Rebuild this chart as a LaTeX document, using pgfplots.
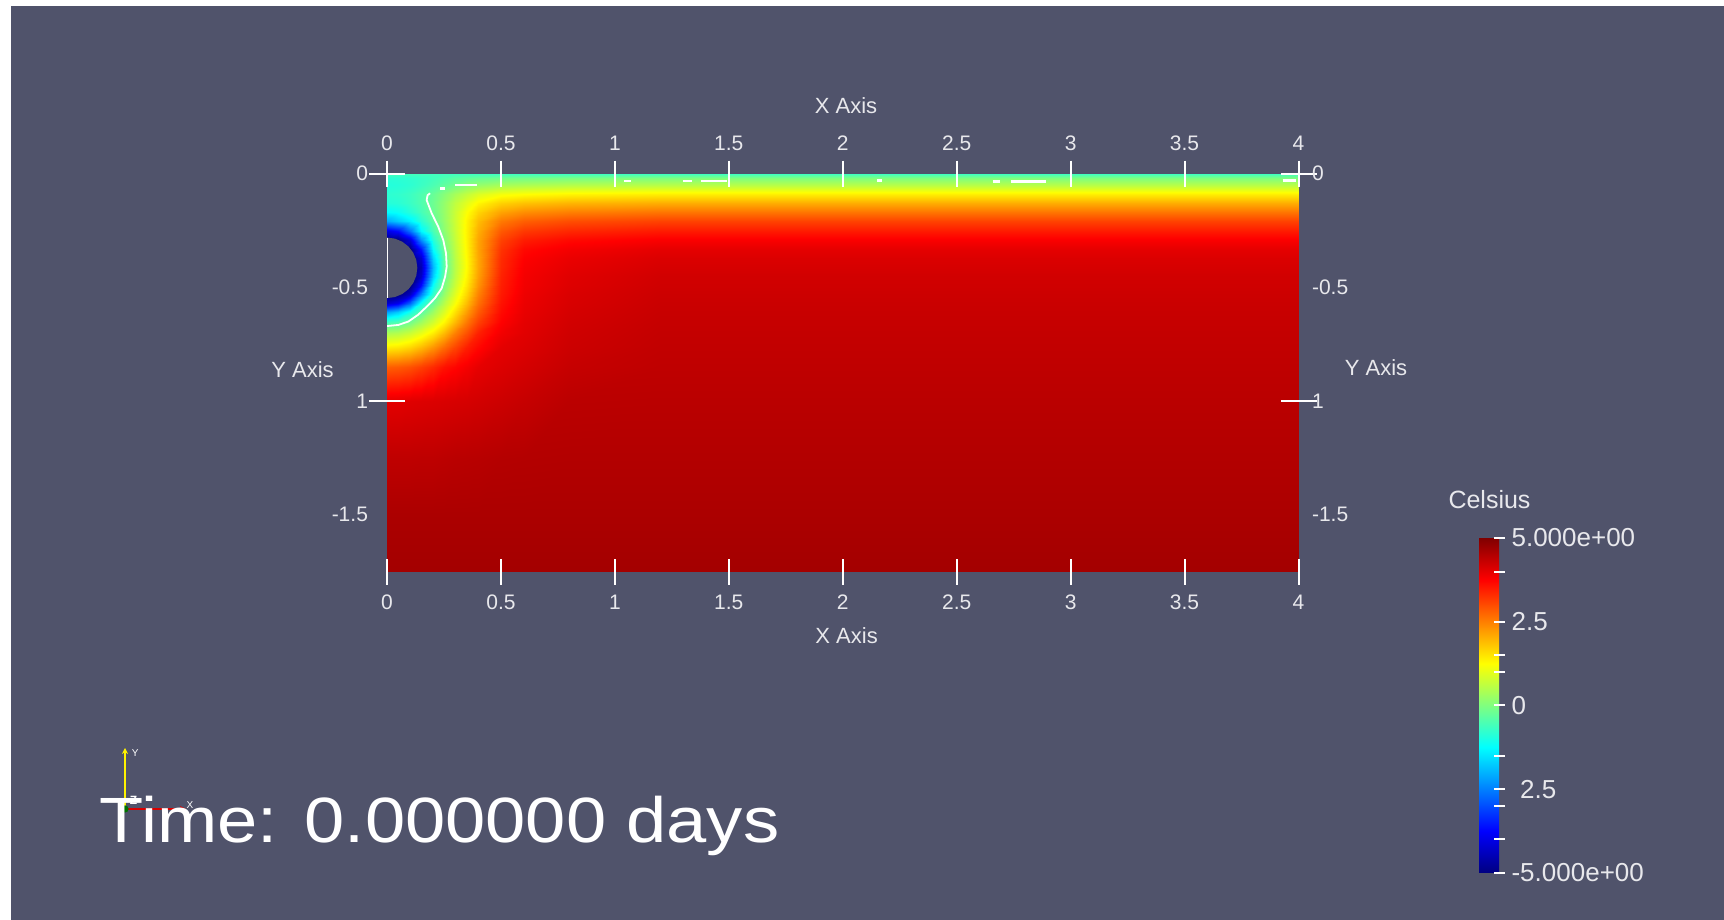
\documentclass[border=0pt]{standalone}
\usepackage{fontspec}
\setmainfont{Liberation Sans}
\usepackage{graphicx}
\usepackage{pgfplots}
\pgfplotsset{compat=1.18}
\usetikzlibrary{arrows.meta}
\definecolor{bg}{RGB}{80,83,107}
\definecolor{lab}{RGB}{232,232,236}
\pgfplotsset{
  colorbar shift/.style={},
  base/.style={at={(193.5pt,174.15pt)}, anchor=south west, width=455.75pt, height=199pt,
    scale only axis, xmin=0, xmax=4, ymin=-1.75, ymax=0},
  labs/.style={base, axis line style={draw=none}, major tick length=0pt, tick style={draw=none},
    xtick={0,0.5,1,1.5,2,2.5,3,3.5,4}, xticklabels={0,0.5,1,1.5,2,2.5,3,3.5,4},
    ytick={0,-0.5,-1,-1.5}, yticklabels={0,-0.5,1,-1.5},
    tick label style={font=\fontsize{10.5}{12}\selectfont, text=lab}},
}
\begin{document}
\begin{tikzpicture}
\useasboundingbox (0pt,0pt) rectangle (862pt,460pt);
\fill[white] (0pt,0pt) rectangle (862pt,460pt);
\fill[bg] (5.25pt,0pt) -- (5.25pt,457pt) -- (862pt,457pt) -- (862pt,0pt) -- cycle;

\begin{axis}[base, hide axis, colormap/jet, point meta min=-5, point meta max=5,
  colorbar,
  colorbar style={
    at={(739.5pt,23.5pt)}, anchor=south west,
    width=10pt, height=167.5pt, scale only axis,
    axis line style={draw=none},
    ytick={-5,-4,-3,-2.5,-1.5,0,1,1.5,2.5,4,5},
    yticklabels={-5.000e+00,,,\hphantom{-}2.5,,0,,,2.5,,5.000e+00},
    ytick pos=right, yticklabel pos=right,
    tick align=center, major tick length=5.5pt,
    ytick style={white, line width=1pt},
    yticklabel style={font=\fontsize{13}{15}\selectfont, text=lab},
  }]
\addplot[surf, shader=interp, mesh/cols=16, point meta=explicit] coordinates {
(0,0)[-0.6] (0.05,0)[-0.6] (0.1,0)[-0.6] (0.15,0)[-0.6] (0.2,0)[-0.6] (0.25,0)[-0.6] (0.3,0)[-0.6] (0.35,0)[-0.6] (0.4,0)[-0.6] (0.5,0)[-0.6] (0.6,0)[-0.6] (0.8,0)[-0.6] (1.2,0)[-0.6] (2,0)[-0.6] (3,0)[-0.6] (4,0)[-0.6]
(0,-0.02)[-0.85] (0.05,-0.02)[-0.83] (0.1,-0.02)[-0.78] (0.15,-0.02)[-0.70] (0.2,-0.02)[-0.60] (0.25,-0.02)[-0.48] (0.3,-0.02)[-0.36] (0.35,-0.02)[-0.28] (0.4,-0.02)[-0.22] (0.5,-0.02)[-0.13] (0.6,-0.02)[-0.09] (0.8,-0.02)[-0.04] (1.2,-0.02)[0.0] (2,-0.02)[0.0] (3,-0.02)[0.0] (4,-0.02)[0.0]
(0,-0.05)[-0.91] (0.05,-0.05)[-0.88] (0.1,-0.05)[-0.81] (0.15,-0.05)[-0.68] (0.2,-0.05)[-0.51] (0.25,-0.05)[-0.30] (0.3,-0.05)[-0.10] (0.35,-0.05)[0.10] (0.4,-0.05)[0.22] (0.5,-0.05)[0.38] (0.6,-0.05)[0.45] (0.8,-0.05)[0.52] (1.2,-0.05)[0.55] (2,-0.05)[0.55] (3,-0.05)[0.55] (4,-0.05)[0.55]
(0,-0.09)[-0.81] (0.05,-0.09)[-0.77] (0.1,-0.09)[-0.66] (0.15,-0.09)[-0.48] (0.2,-0.09)[-0.23] (0.25,-0.09)[0.07] (0.3,-0.09)[0.38] (0.35,-0.09)[0.66] (0.4,-0.09)[0.90] (0.5,-0.09)[1.15] (0.6,-0.09)[1.24] (0.8,-0.09)[1.34] (1.2,-0.09)[1.4] (2,-0.09)[1.4] (3,-0.09)[1.4] (4,-0.09)[1.4]
(0,-0.13)[-0.90] (0.05,-0.13)[-0.85] (0.1,-0.13)[-0.69] (0.15,-0.13)[-0.47] (0.2,-0.13)[-0.17] (0.25,-0.13)[0.20] (0.3,-0.13)[0.63] (0.35,-0.13)[0.99] (0.4,-0.13)[1.33] (0.5,-0.13)[1.70] (0.6,-0.13)[1.85] (0.8,-0.13)[1.98] (1.2,-0.13)[2.05] (2,-0.13)[2.05] (3,-0.13)[2.05] (4,-0.13)[2.05]
(0,-0.17)[-1.26] (0.05,-0.17)[-1.16] (0.1,-0.17)[-0.88] (0.15,-0.17)[-0.57] (0.2,-0.17)[-0.19] (0.25,-0.17)[0.23] (0.3,-0.17)[0.73] (0.35,-0.17)[1.24] (0.4,-0.17)[1.66] (0.5,-0.17)[2.15] (0.6,-0.17)[2.36] (0.8,-0.17)[2.50] (1.2,-0.17)[2.6] (2,-0.17)[2.6] (3,-0.17)[2.6] (4,-0.17)[2.6]
(0,-0.21)[-2.08] (0.05,-0.21)[-1.75] (0.1,-0.21)[-1.39] (0.15,-0.21)[-0.84] (0.2,-0.21)[-0.30] (0.25,-0.21)[0.21] (0.3,-0.21)[0.76] (0.35,-0.21)[1.37] (0.4,-0.21)[1.89] (0.5,-0.21)[2.56] (0.6,-0.21)[2.82] (0.8,-0.21)[2.99] (1.2,-0.21)[3.1] (2,-0.21)[3.1] (3,-0.21)[3.1] (4,-0.21)[3.1]
(0,-0.25)[-4.01] (0.05,-0.25)[-3.67] (0.1,-0.25)[-2.62] (0.15,-0.25)[-1.32] (0.2,-0.25)[-0.52] (0.25,-0.25)[0.13] (0.3,-0.25)[0.73] (0.35,-0.25)[1.40] (0.4,-0.25)[2.03] (0.5,-0.25)[2.88] (0.6,-0.25)[3.20] (0.8,-0.25)[3.37] (1.2,-0.25)[3.5] (2,-0.25)[3.5] (3,-0.25)[3.5] (4,-0.25)[3.5]
(0,-0.29)[-5] (0.05,-0.29)[-5] (0.1,-0.29)[-4.17] (0.15,-0.29)[-2.38] (0.2,-0.29)[-0.89] (0.25,-0.29)[-0.01] (0.3,-0.29)[0.68] (0.35,-0.29)[1.39] (0.4,-0.29)[2.13] (0.5,-0.29)[3.11] (0.6,-0.29)[3.48] (0.8,-0.29)[3.67] (1.2,-0.29)[3.8] (2,-0.29)[3.8] (3,-0.29)[3.8] (4,-0.29)[3.8]
(0,-0.33)[-5] (0.05,-0.33)[-5] (0.1,-0.33)[-5] (0.15,-0.33)[-3.55] (0.2,-0.33)[-1.22] (0.25,-0.33)[-0.14] (0.3,-0.33)[0.62] (0.35,-0.33)[1.36] (0.4,-0.33)[2.14] (0.5,-0.33)[3.25] (0.6,-0.33)[3.67] (0.8,-0.33)[3.85] (1.2,-0.33)[4.0] (2,-0.33)[4.0] (3,-0.33)[4.0] (4,-0.33)[4.0]
(0,-0.37)[-5] (0.05,-0.37)[-5] (0.1,-0.37)[-5] (0.15,-0.37)[-4.25] (0.2,-0.37)[-1.66] (0.25,-0.37)[-0.31] (0.3,-0.37)[0.57] (0.35,-0.37)[1.32] (0.4,-0.37)[2.11] (0.5,-0.37)[3.33] (0.6,-0.37)[3.76] (0.8,-0.37)[3.95] (1.2,-0.37)[4.1] (2,-0.37)[4.1] (3,-0.37)[4.1] (4,-0.37)[4.1]
(0,-0.41)[-5] (0.05,-0.41)[-5] (0.1,-0.41)[-5] (0.15,-0.41)[-4.52] (0.2,-0.41)[-1.94] (0.25,-0.41)[-0.37] (0.3,-0.41)[0.55] (0.35,-0.41)[1.30] (0.4,-0.41)[2.11] (0.5,-0.41)[3.36] (0.6,-0.41)[3.81] (0.8,-0.41)[4.00] (1.2,-0.41)[4.15] (2,-0.41)[4.15] (3,-0.41)[4.15] (4,-0.41)[4.15]
(0,-0.45)[-5] (0.05,-0.45)[-5] (0.1,-0.45)[-5] (0.15,-0.45)[-4.32] (0.2,-0.45)[-1.72] (0.25,-0.45)[-0.28] (0.3,-0.45)[0.62] (0.35,-0.45)[1.37] (0.4,-0.45)[2.18] (0.5,-0.45)[3.42] (0.6,-0.45)[3.85] (0.8,-0.45)[4.05] (1.2,-0.45)[4.2] (2,-0.45)[4.2] (3,-0.45)[4.2] (4,-0.45)[4.2]
(0,-0.49)[-5] (0.05,-0.49)[-5] (0.1,-0.49)[-5] (0.15,-0.49)[-3.70] (0.2,-0.49)[-1.19] (0.25,-0.49)[-0.07] (0.3,-0.49)[0.74] (0.35,-0.49)[1.49] (0.4,-0.49)[2.29] (0.5,-0.49)[3.46] (0.6,-0.49)[3.87] (0.8,-0.49)[4.07] (1.2,-0.49)[4.22] (2,-0.49)[4.22] (3,-0.49)[4.22] (4,-0.49)[4.22]
(0,-0.53)[-5] (0.05,-0.53)[-5] (0.1,-0.53)[-4.37] (0.15,-0.53)[-2.54] (0.2,-0.53)[-0.76] (0.25,-0.53)[0.20] (0.3,-0.53)[0.95] (0.35,-0.53)[1.68] (0.4,-0.53)[2.47] (0.5,-0.53)[3.51] (0.6,-0.53)[3.91] (0.8,-0.53)[4.11] (1.2,-0.53)[4.25] (2,-0.53)[4.25] (3,-0.53)[4.25] (4,-0.53)[4.25]
(0,-0.57)[-4.27] (0.05,-0.57)[-3.92] (0.1,-0.57)[-2.79] (0.15,-0.57)[-1.13] (0.2,-0.57)[-0.23] (0.25,-0.57)[0.53] (0.3,-0.57)[1.19] (0.35,-0.57)[1.92] (0.4,-0.57)[2.64] (0.5,-0.57)[3.58] (0.6,-0.57)[3.94] (0.8,-0.57)[4.13] (1.2,-0.57)[4.27] (2,-0.57)[4.27] (3,-0.57)[4.27] (4,-0.57)[4.27]
(0,-0.61)[-2.14] (0.05,-0.61)[-1.74] (0.1,-0.61)[-1.02] (0.15,-0.61)[-0.38] (0.2,-0.61)[0.30] (0.25,-0.61)[0.91] (0.3,-0.61)[1.54] (0.35,-0.61)[2.24] (0.4,-0.61)[2.86] (0.5,-0.61)[3.66] (0.6,-0.61)[3.97] (0.8,-0.61)[4.16] (1.2,-0.61)[4.29] (2,-0.61)[4.29] (3,-0.61)[4.29] (4,-0.61)[4.29]
(0,-0.65)[-0.62] (0.05,-0.65)[-0.49] (0.1,-0.65)[-0.13] (0.15,-0.65)[0.31] (0.2,-0.65)[0.80] (0.25,-0.65)[1.32] (0.3,-0.65)[1.94] (0.35,-0.65)[2.59] (0.4,-0.65)[3.11] (0.5,-0.65)[3.75] (0.6,-0.65)[4.01] (0.8,-0.65)[4.19] (1.2,-0.65)[4.31] (2,-0.65)[4.31] (3,-0.65)[4.31] (4,-0.65)[4.31]
(0,-0.70)[0.44] (0.05,-0.70)[0.51] (0.1,-0.70)[0.73] (0.15,-0.70)[1.03] (0.2,-0.70)[1.43] (0.25,-0.70)[1.93] (0.3,-0.70)[2.50] (0.35,-0.70)[2.98] (0.4,-0.70)[3.44] (0.5,-0.70)[3.87] (0.6,-0.70)[4.04] (0.8,-0.70)[4.22] (1.2,-0.70)[4.33] (2,-0.70)[4.33] (3,-0.70)[4.33] (4,-0.70)[4.33]
(0,-0.76)[1.40] (0.05,-0.76)[1.46] (0.1,-0.76)[1.63] (0.15,-0.76)[1.90] (0.2,-0.76)[2.28] (0.25,-0.76)[2.69] (0.3,-0.76)[3.07] (0.35,-0.76)[3.46] (0.4,-0.76)[3.68] (0.5,-0.76)[4.01] (0.6,-0.76)[4.09] (0.8,-0.76)[4.25] (1.2,-0.76)[4.35] (2,-0.76)[4.35] (3,-0.76)[4.35] (4,-0.76)[4.35]
(0,-0.85)[2.83] (0.05,-0.85)[2.87] (0.1,-0.85)[2.97] (0.15,-0.85)[3.14] (0.2,-0.85)[3.35] (0.25,-0.85)[3.59] (0.3,-0.85)[3.71] (0.35,-0.85)[3.85] (0.4,-0.85)[3.99] (0.5,-0.85)[4.09] (0.6,-0.85)[4.17] (0.8,-0.85)[4.31] (1.2,-0.85)[4.38] (2,-0.85)[4.38] (3,-0.85)[4.38] (4,-0.85)[4.38]
(0,-1.0)[4.02] (0.05,-1.0)[4.03] (0.1,-1.0)[4.06] (0.15,-1.0)[4.08] (0.2,-1.0)[4.10] (0.25,-1.0)[4.12] (0.3,-1.0)[4.14] (0.35,-1.0)[4.16] (0.4,-1.0)[4.19] (0.5,-1.0)[4.25] (0.6,-1.0)[4.31] (0.8,-1.0)[4.42] (1.2,-1.0)[4.43] (2,-1.0)[4.43] (3,-1.0)[4.43] (4,-1.0)[4.43]
(0,-1.25)[4.38] (0.05,-1.25)[4.38] (0.1,-1.25)[4.38] (0.15,-1.25)[4.39] (0.2,-1.25)[4.39] (0.25,-1.25)[4.41] (0.3,-1.25)[4.43] (0.35,-1.25)[4.44] (0.4,-1.25)[4.45] (0.5,-1.25)[4.48] (0.6,-1.25)[4.49] (0.8,-1.25)[4.5] (1.2,-1.25)[4.5] (2,-1.25)[4.5] (3,-1.25)[4.5] (4,-1.25)[4.5]
(0,-1.5)[4.57] (0.05,-1.5)[4.57] (0.1,-1.5)[4.57] (0.15,-1.5)[4.57] (0.2,-1.5)[4.57] (0.25,-1.5)[4.57] (0.3,-1.5)[4.57] (0.35,-1.5)[4.57] (0.4,-1.5)[4.57] (0.5,-1.5)[4.57] (0.6,-1.5)[4.57] (0.8,-1.5)[4.57] (1.2,-1.5)[4.57] (2,-1.5)[4.57] (3,-1.5)[4.57] (4,-1.5)[4.57]
(0,-1.75)[4.65] (0.05,-1.75)[4.65] (0.1,-1.75)[4.65] (0.15,-1.75)[4.65] (0.2,-1.75)[4.65] (0.25,-1.75)[4.65] (0.3,-1.75)[4.65] (0.35,-1.75)[4.65] (0.4,-1.75)[4.65] (0.5,-1.75)[4.65] (0.6,-1.75)[4.65] (0.8,-1.75)[4.65] (1.2,-1.75)[4.65] (2,-1.75)[4.65] (3,-1.75)[4.65] (4,-1.75)[4.65]
};
% pipe (hole)
\addplot[fill=bg, draw=none] coordinates {(0,-0.547) (0.0344,-0.5425) (0.0665,-0.5292) (0.094,-0.508) (0.1152,-0.4805) (0.1285,-0.4484) (0.133,-0.414) (0.1285,-0.3796) (0.1152,-0.3475) (0.094,-0.32) (0.0665,-0.2988) (0.0344,-0.2855) (0,-0.281)} -- cycle;
\addplot[white, line width=1pt] coordinates {(0,-0.281) (0,-0.547)};
% zero contour
\addplot[white, line width=0.9pt] coordinates {(0,-0.67) (0.05,-0.665) (0.094,-0.65) (0.137,-0.62) (0.174,-0.585) (0.21,-0.548) (0.24,-0.504) (0.255,-0.453) (0.262,-0.409) (0.259,-0.35) (0.247,-0.292) (0.225,-0.233) (0.196,-0.174) (0.174,-0.116) (0.178,-0.095) (0.189,-0.086)};
\addplot[white, line width=1.4pt] coordinates {(0.233,-0.064) (0.255,-0.064)};
\addplot[white, line width=1.4pt] coordinates {(0.30,-0.05) (0.394,-0.05)};
\addplot[white, line width=1pt] coordinates {(1.04,-0.03) (1.07,-0.03)};
\addplot[white, line width=1.2pt] coordinates {(1.30,-0.033) (1.34,-0.033)};
\addplot[white, line width=1.2pt] coordinates {(1.38,-0.033) (1.49,-0.033)};
\addplot[white, line width=1.2pt] coordinates {(2.15,-0.03) (2.17,-0.03)};
\addplot[white, line width=1.2pt] coordinates {(2.66,-0.035) (2.69,-0.035)};
\addplot[white, line width=1.2pt] coordinates {(2.74,-0.035) (2.89,-0.035)};
\addplot[white, line width=1.2pt] coordinates {(3.93,-0.03) (3.99,-0.03)};
\end{axis}

% tick marks only
\begin{axis}[base, axis line style={draw=none}, tick align=center,
  xtick={0,0.5,1,1.5,2,2.5,3,3.5,4}, ytick={0,-1},
  xticklabels={}, yticklabels={},
  tick style={white, line width=1pt},
  xtick style={/pgfplots/major tick length=13pt},
  ytick style={/pgfplots/major tick length=18pt}]
\end{axis}

% bottom / left labels
\begin{axis}[labs, xticklabel pos=left, yticklabel pos=left,
  xticklabel shift=8.2pt, yticklabel shift=6pt]
\end{axis}

% top / right labels
\begin{axis}[labs, xticklabel pos=right, yticklabel pos=right,
  xticklabel shift=8.2pt, yticklabel shift=3.25pt]
\end{axis}

\begin{scope}[font=\fontsize{11}{13}\selectfont, text=lab]
\node at (423pt,407.25pt) {X Axis};
\node at (423.3pt,142.25pt) {X Axis};
\node at (151.25pt,275pt) {Y Axis};
\node at (688pt,276pt) {Y Axis};
\node[font=\fontsize{12.5}{14}\selectfont] at (744.75pt,210pt) {Celsius};
\end{scope}

% orientation triad
\draw[yellow, line width=0.8pt, -{Stealth[length=3pt,width=3pt]}] (62.5pt,55.5pt) -- (62.5pt,86pt);
\draw[red!85!black, line width=1.2pt, -{Stealth[length=3pt,width=3pt]}] (62.5pt,55.5pt) -- (93pt,55.5pt);
\fill[green!45!black] (62.5pt,55.5pt) circle (1.8pt);
\node[font=\fontsize{5}{6}\selectfont, text=white, inner sep=0pt] at (67.6pt,83.5pt) {Y};
\node[font=\bfseries\fontsize{6}{7}\selectfont, text=white, inner sep=0pt] at (66.8pt,60pt) {Z};
\node[font=\fontsize{5}{6}\selectfont, text=white, inner sep=0pt] at (95pt,57.5pt) {X};

% time annotation
\node[anchor=base west, inner sep=0pt, text=white, font=\fontsize{32}{38}\selectfont] at (49.75pt,38.5pt) {\scalebox{1.13}[1]{Time: 0.000000 days}};
\end{tikzpicture}
\end{document}
